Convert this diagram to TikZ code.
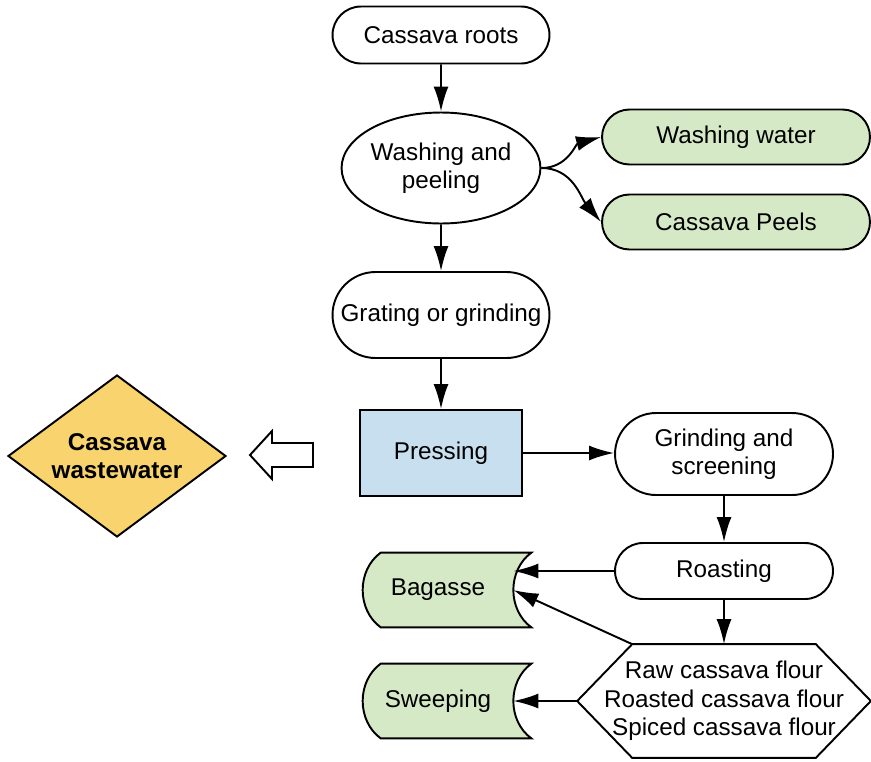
\documentclass[tikz,border=0pt]{standalone}
\usepackage{fontspec}
\setmainfont{Liberation Sans}
\usepackage{tikz}
\usetikzlibrary{arrows.meta,shapes,backgrounds}
\definecolor{leafgreen}{RGB}{214,233,198}
\definecolor{pressblue}{RGB}{199,223,239}
\definecolor{wastegold}{RGB}{248,211,110}
\tikzstyle{stepbox}=[rounded rectangle,draw,line width=1.1pt,inner sep=0pt,align=center]
\tikzstyle{outbox}=[stepbox,fill=leafgreen]
\tikzstyle{storebox}=[rectangle,inner sep=0pt,align=center,minimum width=3cm,minimum height=1.48cm]
\tikzstyle{edge} = [draw,line width=1.1pt,-{Latex[length=0.5cm,width=0.3cm]}]

\begin{document}
\begin{tikzpicture}[x=0.02cm,y=-0.02cm,font=\fontsize{13.8}{16.2}\selectfont]
      \useasboundingbox (0,0) rectangle (871,761);
      \node[stepbox,minimum width=4.34cm,minimum height=1.14cm] (roots) at (441,35) {Cassava roots};
      \node[ellipse,draw,line width=1.1pt,inner sep=0pt,align=center,minimum width=3.84cm,minimum height=2.22cm] (wash) at (441,168) {Washing and\\peeling};
      \node[outbox,minimum width=5.36cm,minimum height=1.1cm] (water) at (736,137) {Washing water};
      \node[outbox,minimum width=5.36cm,minimum height=1.1cm] (peels) at (736,222) {Cassava Peels};
      \node[stepbox,minimum width=4.34cm,minimum height=1.72cm] (grate) at (441,315) {Grating or grinding};
      \node[rectangle,draw,line width=1.1pt,fill=pressblue,minimum width=3.24cm,minimum height=1.72cm] (press) at (441,453) {Pressing};
      \node[diamond,draw,line width=1.1pt,fill=wastegold,aspect=1.35,inner sep=0pt,align=center,minimum width=4.36cm,minimum height=3.24cm,font=\fontsize{13.8}{16.2}\selectfont\bfseries] (waste) at (117,456) {Cassava\\wastewater};
      \node[stepbox,minimum width=4.36cm,minimum height=1.64cm] (grind) at (724,454) {Grinding and\\screening};
      \node[stepbox,minimum width=4.36cm,minimum height=1.12cm] (roast) at (724,571) {Roasting};
      \node[storebox] (bag) at (438,590) {Bagasse};
      \node[storebox] (sweep) at (438,701) {Sweeping};
      \node[rectangle,inner sep=0pt,align=center,minimum width=5.86cm,minimum height=2.26cm] (flour) at (724,701) {Raw cassava flour\\Roasted cassava flour\\Spiced cassava flour};
      \coordinate (flournw) at ([xshift=1.1cm]flour.north west);
      % stored data outlines
      \begin{scope}[on background layer]
      \foreach \s in {bag,sweep}
        \draw[line width=1.1pt,fill=leafgreen] ([xshift=0.36cm]\s.north west) -- ([xshift=0.36cm]\s.north east)
          .. controls +(-0.48cm,-0.35cm) and +(-0.48cm,0.35cm) .. ([xshift=0.36cm]\s.south east)
          -- ([xshift=0.36cm]\s.south west)
          .. controls +(-0.48cm,0.35cm) and +(-0.48cm,-0.35cm) .. ([xshift=0.36cm]\s.north west) -- cycle;
      \end{scope}
      \draw[line width=1.1pt] (flour.west) -- (flournw) -- ([xshift=-1.1cm]flour.north east) -- (flour.east)
        -- ([xshift=-1.1cm]flour.south east) -- ([xshift=1.1cm]flour.south west) -- cycle;
      % hollow arrow
      \draw[line width=1.1pt,fill=white] (250,455) -- (272,431) -- (272,443) -- (313,443) -- (313,467) -- (272,467) -- (272,479) -- cycle;
      \draw[edge] (roots) to (wash);
      \draw[edge] (wash.east) to[out=0,in=195] (water.west);
      \draw[edge] (wash.east) to[out=0,in=130] (peels.west);
      \draw[edge] (wash) to (grate);
      \draw[edge] (grate) to (press);
      \draw[edge] (press.east) to (press.east -| grind.west);
      \draw[edge] (grind) to (roast);
      \draw[edge] (roast) to (flour.north);
      \draw[edge] (roast.west) to (bag.east |- roast.west);
      \draw[edge] (flournw) to (bag.east);
      \draw[edge] (flour.west) to (sweep.east);
    \end{tikzpicture}
\end{document}
